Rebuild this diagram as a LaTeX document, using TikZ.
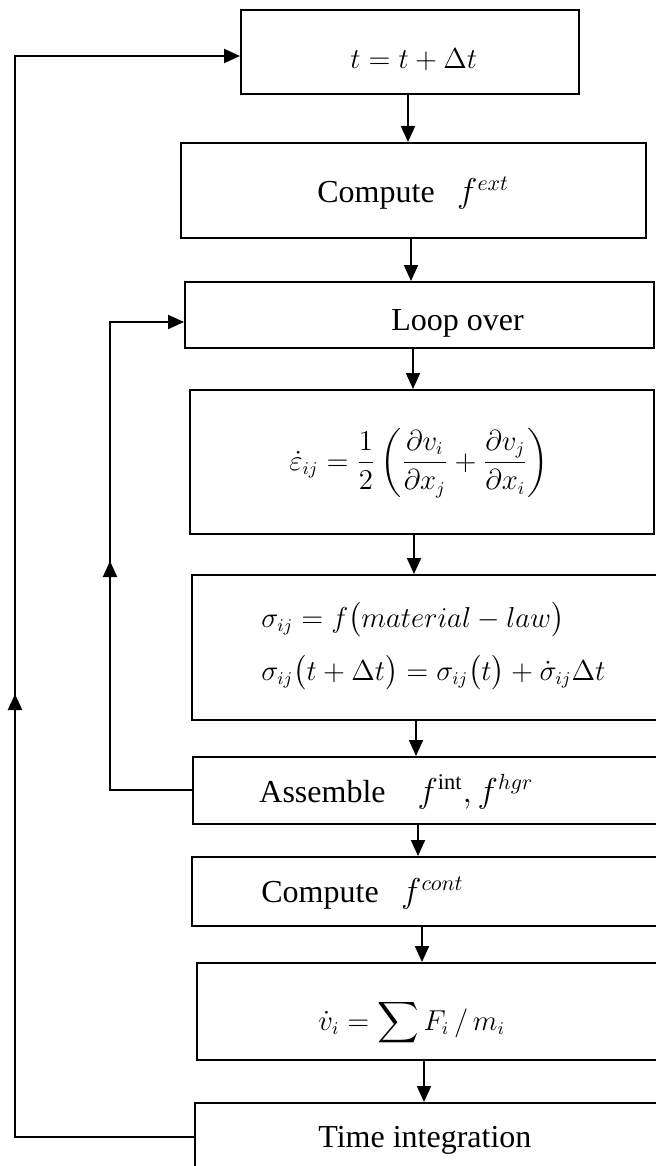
\documentclass[tikz,border=0pt]{standalone}
\usepackage{amsmath}
\usepackage{fontspec}
\setmainfont{Liberation Serif}
\usepackage{tikz}
\usetikzlibrary{arrows.meta, fit, decorations.markings}

\tikzset{
	blk/.style={draw, line width=1pt, inner sep=0pt},
	lbl/.style={anchor=west, inner sep=0pt, font=\fontsize{16}{19}\selectfont},
	mth/.style={lbl, font=\fontsize{13.5}{16}\selectfont},
	arr/.style={line width=1pt, -{Triangle[length=8pt, width=7pt]}},
	midup/.style={postaction={decorate}, decoration={markings,
		mark=at position #1 with {\arrow{Triangle[length=8pt, width=7pt]}}}}
}

\begin{document}
\begin{tikzpicture}[x=0.5pt, y=-0.5pt]
			\useasboundingbox (0,0) rectangle (656,1166);
			\clip (0,0) rectangle (656,1166);
			
			% blocks
			\node[blk, fit={(241,10) (579,94)}] (tstep) {};
			\node[blk, fit={(181,143) (646,238)}] (fext) {};
			\node[blk, fit={(185,282) (654,348)}] (loopover) {};
			\node[blk, fit={(190,390) (654,534)}] (strain) {};
			\node[blk, fit={(192,575) (670,720)}] (stress) {};
			\node[blk, fit={(193,757) (670,824)}] (assem) {};
			\node[blk, fit={(192,857) (670,926)}] (fcont) {};
			\node[blk, fit={(197,963) (670,1060)}] (accel) {};
			\node[blk, fit={(195,1103) (670,1200)}] (tint) {};
			
			% texts
			\node[mth] (tstepl) at (350,60) {$t = t + \Delta t$};
			\node[lbl] (fextl) at (317,193) {Compute\hspace{0.7em}$f^{ext}$};
			\node[lbl] (loopl) at (391,323) {Loop over};
			\node[mth] (strainl) at (289,463) {$\displaystyle \dot{\varepsilon}_{ij} = \frac{1}{2}\left(\frac{\partial v_i}{\partial x_j} + \frac{\partial v_j}{\partial x_i}\right)$};
			\node[mth] (stressa) at (261,620) {$\sigma_{ij} = f\bigl(material - law\bigr)$};
			\node[mth] (stressb) at (261,673) {$\sigma_{ij}\bigl(t + \Delta t\bigr) = \sigma_{ij}\bigl(t\bigr) + \dot{\sigma}_{ij}\Delta t$};
			\node[lbl] (asseml) at (259,792) {Assemble\quad$f^{\mathrm{int}}, f^{hgr}$};
			\node[lbl] (fcontl) at (261,893) {Compute\hspace{0.7em}$f^{cont}$};
			\node[mth] (accell) at (318,1023) {$\dot{v}_i = \displaystyle\sum\nolimits F_i \,/\, m_i$};
			\node[lbl] (tintl) at (318,1140) {Time integration};
			
			% main flow
			\foreach \a/\b/\x in {tstep/fext/408, fext/loopover/411, loopover/strain/413, strain/stress/414,
				stress/assem/416, assem/fcont/418, fcont/accel/422, accel/tint/424}
				\draw[arr] (\x,0 |- \a.south) -- (\x,0 |- \b.north);
			
			% loops back
			\coordinate (obot) at (15,1137);
			\coordinate (otop) at (15,56);
			\coordinate (ibot) at (110,790);
			\coordinate (itop) at (110,322);
			\draw[arr, midup=311pt] (tint.west |- obot) -- (obot) -- (otop) -- (tstep.west |- otop);
			\draw[arr, midup=155.5pt] (assem.west |- ibot) -- (ibot) -- (itop) -- (loopover.west |- itop);
		\end{tikzpicture}
\end{document}
